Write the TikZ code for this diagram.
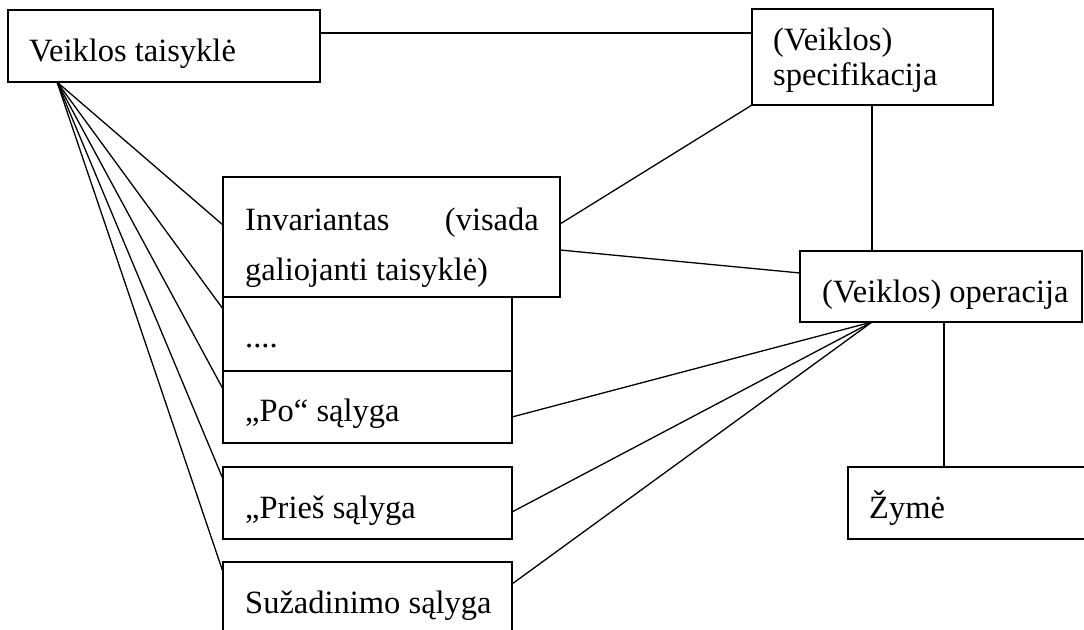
\documentclass[tikz,border=0pt]{standalone}
\usepackage{fontspec}
\setmainfont{Liberation Serif}
\usetikzlibrary{calc}
\begin{document}
\begin{tikzpicture}[x=1pt,y=-1pt,
  box/.style={draw, line width=1.4pt, inner sep=0pt, outer sep=0pt, anchor=north west},
  lbl/.style={anchor=base west, inner sep=0pt, font=\fontsize{32.5}{36}\selectfont},
  link/.style={line width=1.3pt}]
\useasboundingbox (0,0) rectangle (1084,629);
\clip (0,0) rectangle (1084,629);

% boxes
\node[box, minimum width=312pt, minimum height=72pt]  (vt)    at (8,10)    {};
\node[box, minimum width=241pt, minimum height=96pt]  (spec)  at (752,9)   {};
\node[box, minimum width=337pt, minimum height=120pt] (inv)   at (223,177) {};
\node[box, minimum width=289pt, minimum height=74pt]  (dots)  at (223,297) {};
\node[box, minimum width=289pt, minimum height=72pt]  (po)    at (223,371) {};
\node[box, minimum width=289pt, minimum height=72pt]  (pries) at (223,467) {};
\node[box, minimum width=289pt, minimum height=90pt]  (suz)   at (223,562) {};
\node[box, minimum width=282pt, minimum height=71pt]  (op)    at (800,251) {};
\node[box, minimum width=260pt, minimum height=72pt]  (zyme)  at (848,467) {};

% texts
\node[lbl] (vt-t)    at (29,61)   {Veiklos taisyklė};
\node[lbl] (spec-t1) at (773,50)  {(Veiklos)};
\node[lbl] (spec-t2) at (773,85)  {specifikacija};
\node[lbl] (inv-t1)  at (245,230) {Invariantas};
\node[lbl, anchor=base east] (inv-t2) at (539,230) {(visada};
\node[lbl] (inv-t3)  at (245,280) {galiojanti taisyklė)};
\node[lbl] (dots-t)  at (245,347) {....};
\node[lbl] (po-t)    at (245,421) {„Po“ sąlyga};
\node[lbl] (pries-t) at (245,518) {„Prieš sąlyga};
\node[lbl] (suz-t)   at (245,613) {Sužadinimo sąlyga};
\node[lbl] (op-t)    at (822,302) {(Veiklos) operacija};
\node[lbl] (zyme-t)  at (869,518) {Žymė};

% connectors
\coordinate (fanL) at ($(vt.south west)+(49,0)$);
\coordinate (fanR) at ($(op.south west)+(72,0)$);

\draw[link] ($(vt.north east)+(0,23)$) -- ($(spec.north west)+(0,24)$);

\draw[link] (fanL) -- ($(inv.north west)+(0,48)$);
\draw[link] (fanL) -- ($(dots.north west)+(0,12)$);
\draw[link] (fanL) -- ($(po.north west)+(0,18)$);
\draw[link] (fanL) -- ($(pries.north west)+(0,12)$);
\draw[link] (fanL) -- ($(suz.north west)+(0,10)$);

\draw[link] (spec.south west) -- ($(inv.north east)+(0,47)$);
\draw[link] ($(inv.north east)+(0,73)$) -- ($(op.north west)+(0,22)$);
\draw[link] ($(spec.south west)+(120,0)$) -- ($(op.north west)+(72,0)$);
\draw[link] ($(op.south west)+(144,0)$) -- ($(zyme.north west)+(96,0)$);

\draw[link] (fanR) -- ($(po.north east)+(0,46)$);
\draw[link] (fanR) -- ($(pries.north east)+(0,45)$);
\draw[link] (fanR) -- ($(suz.north east)+(0,22)$);
\end{tikzpicture}
\end{document}
